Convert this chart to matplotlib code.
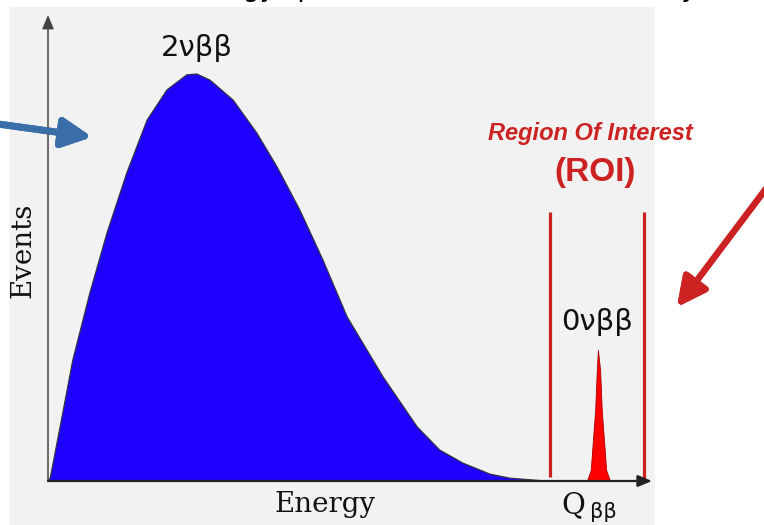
import matplotlib
matplotlib.use("Agg")
import matplotlib.pyplot as plt
from matplotlib.patches import Rectangle

# 2vbb continuum, energy in units of Q, events normalised to the maximum
two_nu_energy = [0.000, 0.004, 0.022, 0.045, 0.076, 0.107, 0.143, 0.180, 0.216,
                 0.252, 0.270, 0.294, 0.336, 0.379, 0.416, 0.457, 0.499, 0.543,
                 0.608, 0.670, 0.711, 0.753, 0.802, 0.838, 0.893, 0.929]
two_nu_events = [0.000, 0.007, 0.133, 0.297, 0.462, 0.609, 0.757, 0.887, 0.961,
                 0.998, 1.000, 0.985, 0.936, 0.855, 0.771, 0.666, 0.543, 0.403,
                 0.256, 0.133, 0.076, 0.044, 0.017, 0.007, 0.001, 0.000]

# 0vbb peak at Q
zero_nu_energy = [0.978, 0.985, 0.989, 0.993, 0.996, 0.998, 1.002, 1.005, 1.009, 1.013, 1.020]
zero_nu_events = [0.000, 0.027, 0.101, 0.174, 0.273, 0.322, 0.273, 0.174, 0.101, 0.027, 0.000]

roi_edges = [0.911, 1.082]
roi_top = 0.661

W, H = 764, 525
BLUE = "#1e00ff"
RED = "#cc2222"
ARROW_BLUE = "#3a6ea8"


def px(x, y):
    # top-left pixel position -> figure fraction
    return x / W, 1 - y / H


fig = plt.figure(figsize=(W / 100, H / 100), dpi=100)
fig.patch.set_facecolor("white")
fig.patches.append(Rectangle(px(9, 525), 646 / W, 518 / H, transform=fig.transFigure,
                             facecolor="#f2f2f2", edgecolor="none", zorder=-5))

# cut-off title at the very top, as in the source picture
fig.text(*px(440, -4), "Energy spectrum of double beta decay", ha="center", va="baseline",
         fontsize=19, color="black")

x0, y0 = px(48, 481)
x1, y1 = px(652, 15)
ax = fig.add_axes([x0, y0, x1 - x0, y1 - y0], zorder=2)
ax.set_xlim(0, 604 / 551)
ax.set_ylim(0, 466 / 407)
ax.axis("off")

ax.fill_between(two_nu_energy, two_nu_events, color=BLUE, edgecolor="none", zorder=3)
ax.plot(two_nu_energy, two_nu_events, color="#333344", lw=0.9, zorder=4)
ax.fill_between(zero_nu_energy, zero_nu_events, color="#ff0000", edgecolor="#aa0000", lw=0.6, zorder=3)

ax.vlines(roi_edges[0], 0.010, roi_top, color=RED, lw=2.3, zorder=2)
ax.vlines(roi_edges[1], 0.0, roi_top, color=RED, lw=2.3, zorder=2)

# axes with arrow heads
ax.annotate("", xy=(0, 1.0), xytext=(0, 0), xycoords="axes fraction",
            arrowprops=dict(arrowstyle="-|>,head_length=0.6,head_width=0.25", color="#444444",
                            lw=1.1, mutation_scale=14, shrinkA=0, shrinkB=0), zorder=5)
ax.annotate("", xy=(1.0, 0), xytext=(0, 0), xycoords="axes fraction",
            arrowprops=dict(arrowstyle="-|>,head_length=0.6,head_width=0.25", color="#222222",
                            lw=1.6, mutation_scale=14, shrinkA=0, shrinkB=0), zorder=5)

# labels
fig.text(*px(197, 48), "2νββ", ha="center", va="center", fontsize=21, color="#111111")
fig.text(*px(597, 322), "0νββ", ha="center", va="center", fontsize=21, color="#111111")
fig.text(*px(590, 133), "Region Of Interest", ha="center", va="center", fontsize=17,
         fontweight="bold", fontstyle="italic", color=RED, family="Liberation Sans")
fig.text(*px(595, 172), "(ROI)", ha="center", va="center", fontsize=24,
         fontweight="bold", color=RED, family="Liberation Sans")
fig.text(*px(23, 250), "Events", ha="center", va="center", rotation=90, fontsize=20,
         family="DejaVu Serif", color="#111111")
fig.text(*px(325, 504), "Energy", ha="center", va="center", fontsize=20,
         family="DejaVu Serif", color="#111111")
fig.text(*px(573, 505), "Q", ha="center", va="center", fontsize=21,
         family="DejaVu Serif", color="#111111")
fig.text(*px(603, 512), "ββ", ha="center", va="center", fontsize=15, color="#111111")

# pointer arrows
fig.add_artist(plt.annotate("", xy=px(92, 137), xytext=px(-2, 124), xycoords="figure fraction",
                            arrowprops=dict(arrowstyle="-|>,head_length=1.1,head_width=0.55",
                                            color=ARROW_BLUE, lw=5, mutation_scale=16,
                                            shrinkA=0, shrinkB=0)))
fig.add_artist(plt.annotate("", xy=px(677, 307), xytext=px(768, 186), xycoords="figure fraction",
                            arrowprops=dict(arrowstyle="-|>,head_length=1.1,head_width=0.55",
                                            color=RED, lw=4.5, mutation_scale=16,
                                            shrinkA=0, shrinkB=0)))

fig.savefig("out.png", dpi=100)
